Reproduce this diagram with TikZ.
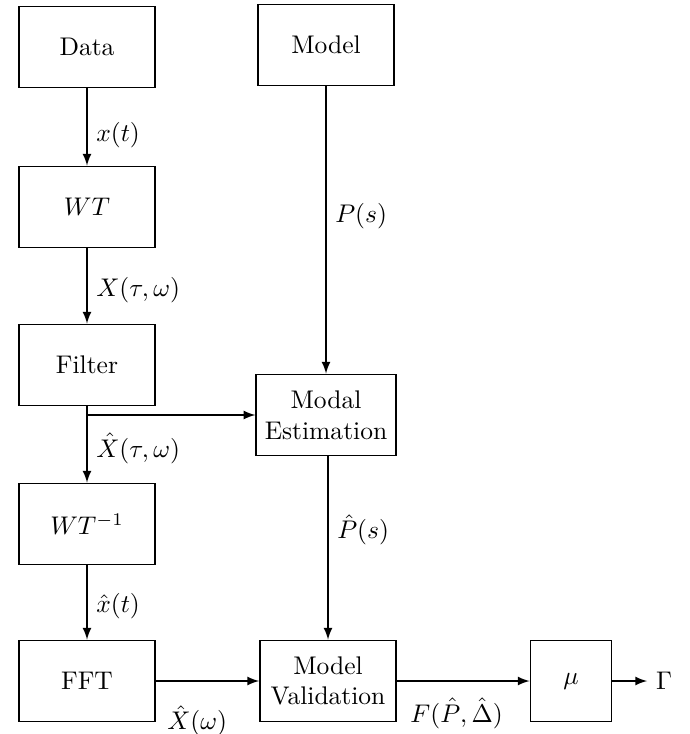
\documentclass[tikz,border=0pt]{standalone}
\begin{document}
\begin{tikzpicture}[x=0.392pt,y=-0.392pt,
  block/.style={draw,line width=0.7pt,minimum width=53.3pt,minimum height=31.8pt,align=center},
  flow/.style={-latex,semithick}]
\useasboundingbox (0,0) rectangle (689,734);
\pgfmathsetmacro{\colA}{87}
\pgfmathsetmacro{\colB}{326}
\pgfmathsetmacro{\rowE}{681}
% left column
\node[block] (data) at (\colA,47) {Data};
\node[block] (wt) at (\colA,207) {$WT$};
\node[block] (filter) at (\colA,365) {Filter};
\node[block] (wtinv) at (\colA,524) {$WT^{-1}$};
\node[block] (fft) at (\colA,\rowE) {FFT};
% right column
\node[block] (model) at (\colB,45) {Model};
\node[block] (est) at (\colB,415) {Modal\\Estimation};
\node[block] (valid) at (\colB+2,\rowE) {Model\\Validation};
\node[block,minimum width=31.8pt] (mu) at (571,\rowE) {$\mu$};
\node (gam) at (664,\rowE) {$\Gamma$};
% connectors
\draw[flow] (data) -- node[right,pos=0.6] (lx) {$x(t)$} (wt);
\draw[flow] (wt) -- node[right,pos=0.55] (lX) {$X(\tau,\omega)$} (filter);
\draw[flow] (filter) -- node[right,pos=0.55] (lXh) {$\hat{X}(\tau,\omega)$} (wtinv);
\draw[flow] (filter.south |- est.west) -- (est.west);
\draw[flow] (wtinv) -- node[right,pos=0.55] (lxh) {$\hat{x}(t)$} (fft);
\draw[flow] (model) -- node[right,pos=0.45] (lP) {$P(s)$} (est);
\draw[flow] (est.south -| valid.north) -- node[right,pos=0.4] (lPh) {$\hat{P}(s)$} (valid.north);
\draw[flow] (fft) -- node[below=6pt,pos=0.4] (lXw) {$\hat{X}(\omega)$} (valid);
\draw[flow] (valid) -- node[below=3pt,pos=0.45] (lF) {$F(\hat{P},\hat{\Delta})$} (mu);
\draw[flow] (mu) -- (gam);
\end{tikzpicture}
\end{document}
